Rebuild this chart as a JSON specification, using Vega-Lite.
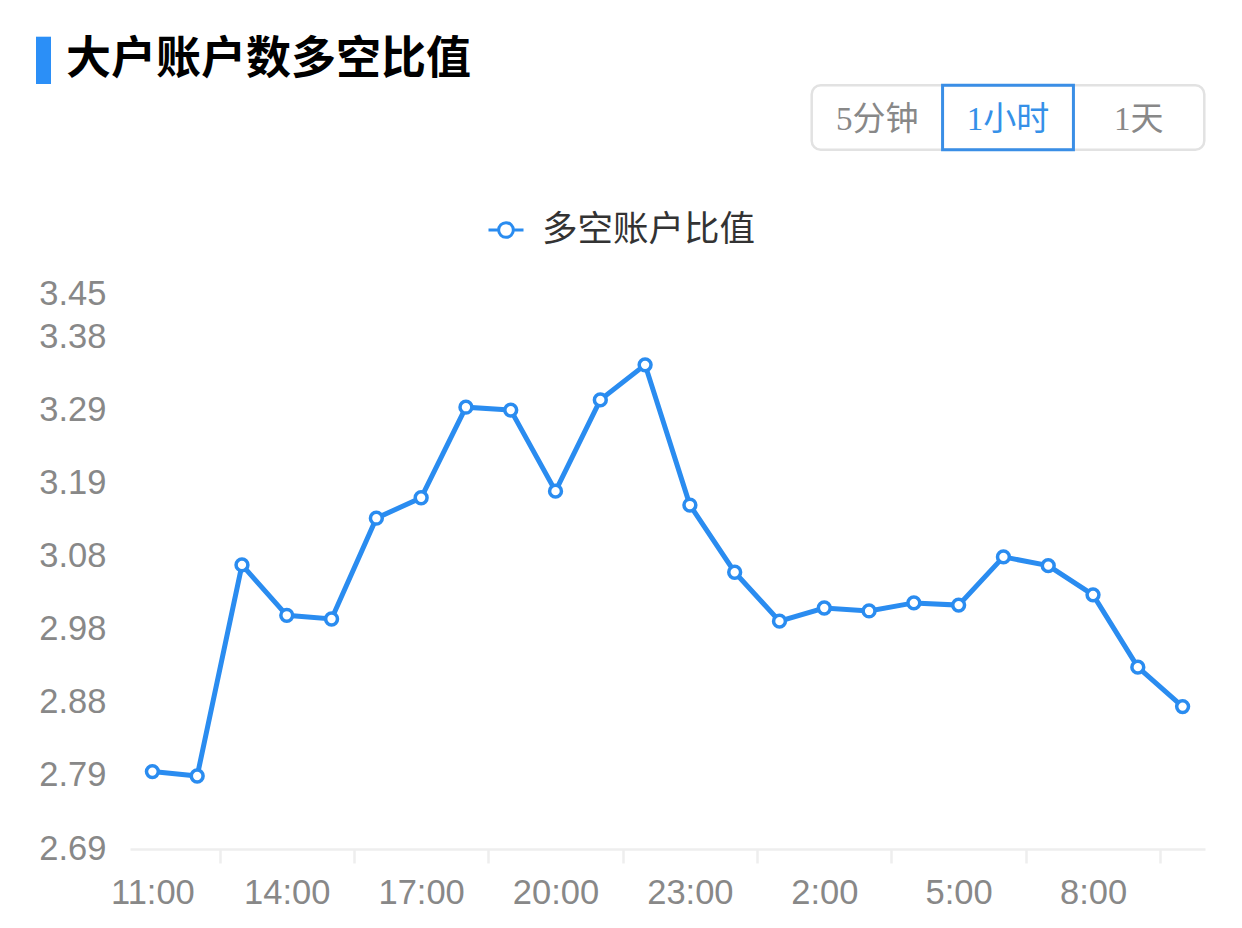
{
  "$schema": "https://vega.github.io/schema/vega-lite/v6.json",
  "autosize": "none",
  "width": 1075,
  "height": 555,
  "padding": {"left": 130, "top": 294, "right": 37, "bottom": 79},
  "background": "white",
  "config": {"view": {"stroke": null}, "font": "Noto Sans CJK SC"},
  "datasets": {
    "main": [
      {"time": "11:00", "value": 2.796, "series": "多空账户比值"},
      {"time": "12:00", "value": 2.790, "series": "多空账户比值"},
      {"time": "13:00", "value": 3.079, "series": "多空账户比值"},
      {"time": "14:00", "value": 3.010, "series": "多空账户比值"},
      {"time": "15:00", "value": 3.005, "series": "多空账户比值"},
      {"time": "16:00", "value": 3.143, "series": "多空账户比值"},
      {"time": "17:00", "value": 3.171, "series": "多空账户比值"},
      {"time": "18:00", "value": 3.295, "series": "多空账户比值"},
      {"time": "19:00", "value": 3.291, "series": "多空账户比值"},
      {"time": "20:00", "value": 3.180, "series": "多空账户比值"},
      {"time": "21:00", "value": 3.305, "series": "多空账户比值"},
      {"time": "22:00", "value": 3.353, "series": "多空账户比值"},
      {"time": "23:00", "value": 3.161, "series": "多空账户比值"},
      {"time": "0:00", "value": 3.069, "series": "多空账户比值"},
      {"time": "1:00", "value": 3.002, "series": "多空账户比值"},
      {"time": "2:00", "value": 3.020, "series": "多空账户比值"},
      {"time": "3:00", "value": 3.016, "series": "多空账户比值"},
      {"time": "4:00", "value": 3.027, "series": "多空账户比值"},
      {"time": "5:00", "value": 3.024, "series": "多空账户比值"},
      {"time": "6:00", "value": 3.090, "series": "多空账户比值"},
      {"time": "7:00", "value": 3.078, "series": "多空账户比值"},
      {"time": "8:00", "value": 3.038, "series": "多空账户比值"},
      {"time": "9:00", "value": 2.939, "series": "多空账户比值"},
      {"time": "10:00", "value": 2.885, "series": "多空账户比值"}
    ],
    "heading": [{"heading": "大户账户数多空比值"}],
    "buttons": [
      {"label": "5分钟", "group": "周期", "selected": false},
      {"label": "1小时", "group": "周期", "selected": true},
      {"label": "1天", "group": "周期", "selected": false}
    ]
  },
  "layer": [
    {
      "data": {"name": "heading"},
      "mark": {"type": "rect", "color": "#2b8ff7"},
      "encoding": {
        "x": {"field": "heading", "type": "nominal", "axis": null, "scale": {"type": "band", "range": [-94, -79], "paddingInner": 0, "paddingOuter": 0}},
        "y": {"field": "heading", "type": "nominal", "axis": null, "scale": {"type": "band", "range": [-257.3, -210], "paddingInner": 0, "paddingOuter": 0}}
      }
    },
    {
      "data": {"name": "heading"},
      "mark": {"type": "text", "align": "left", "baseline": "middle", "fontSize": 45, "fontWeight": "bold", "font": "Noto Sans CJK SC", "color": "#000000"},
      "encoding": {
        "x": {"field": "heading", "type": "nominal", "axis": null, "scale": {"type": "band", "range": [-74, -54], "paddingInner": 0, "paddingOuter": 0}},
        "y": {"field": "heading", "type": "nominal", "axis": null, "scale": {"type": "band", "range": [-257.3, -210], "paddingInner": 0, "paddingOuter": 0}},
        "text": {"field": "heading"}
      }
    },
    {
      "data": {"name": "buttons"},
      "transform": [{"filter": "datum.selected"}],
      "mark": {"type": "rect", "fill": "white", "stroke": "#e2e2e2", "strokeWidth": 2.5, "cornerRadius": 9},
      "encoding": {
        "x": {"field": "group", "type": "nominal", "axis": null, "scale": {"type": "band", "range": [681.7, 1074.3], "paddingInner": 0, "paddingOuter": 0}},
        "y": {"field": "group", "type": "nominal", "axis": null, "scale": {"type": "band", "range": [-208.7, -144.3], "paddingInner": 0, "paddingOuter": 0}}
      }
    },
    {
      "data": {"name": "buttons"},
      "encoding": {
        "x": {"field": "label", "type": "nominal", "axis": null, "scale": {"type": "band", "domain": ["5分钟", "1小时", "1天"], "range": [681.7, 1074.3], "paddingInner": 0, "paddingOuter": 0}},
        "y": {"field": "group", "type": "nominal", "axis": null, "scale": {"type": "band", "range": [-208.7, -144.3], "paddingInner": 0, "paddingOuter": 0}}
      },
      "layer": [
        {
          "transform": [{"filter": "datum.selected"}],
          "mark": {"type": "rect", "fill": "transparent", "stroke": "#3a8ee6", "strokeWidth": 3}
        },
        {
          "mark": {"type": "text", "align": "center", "baseline": "middle", "fontSize": 33, "font": "Liberation Serif, Noto Sans CJK SC", "dy": 2},
          "encoding": {
            "text": {"field": "label"},
            "color": {"condition": {"test": "datum.selected", "value": "#3590e8"}, "value": "#888888"}
          }
        }
      ]
    },
    {
      "data": {"name": "main"},
      "encoding": {
        "x": {
          "field": "time", "type": "ordinal", "sort": null,
          "scale": {"type": "band", "paddingInner": 0, "paddingOuter": 0},
          "axis": {
            "title": null,
            "values": ["11:00", "14:00", "17:00", "20:00", "23:00", "2:00", "5:00", "8:00"],
            "labelAngle": 0,
            "labelFont": "Liberation Sans",
            "labelFontSize": 34.5,
            "labelColor": "#888888",
            "labelPadding": 13,
            "domain": true,
            "domainColor": "#eeeeee",
            "domainWidth": 2.5,
            "ticks": true,
            "tickColor": "#eeeeee",
            "tickWidth": 2.5,
            "tickSize": 14,
            "tickOffset": 67.19,
            "labelOffset": -67.19,
            "grid": false
          }
        },
        "y": {
          "field": "value", "type": "quantitative",
          "scale": {"domain": [2.69, 3.45], "nice": false, "zero": false},
          "axis": {
            "title": null,
            "values": [2.69, 2.79, 2.89, 2.99, 3.09, 3.19, 3.29, 3.39, 3.45],
            "labelExpr": "datum.value < 2.7 ? '2.69' : datum.value < 2.8 ? '2.79' : datum.value < 2.9 ? '2.88' : datum.value < 3.0 ? '2.98' : datum.value < 3.1 ? '3.08' : datum.value < 3.2 ? '3.19' : datum.value < 3.3 ? '3.29' : datum.value < 3.42 ? '3.38' : '3.45'",
            "labelFont": "Liberation Sans",
            "labelFontSize": 34.5,
            "labelColor": "#888888",
            "labelPadding": 24,
            "domain": false,
            "ticks": false,
            "grid": false
          }
        }
      },
      "layer": [
        {
          "mark": {"type": "line", "strokeWidth": 5},
          "encoding": {
            "color": {
              "field": "series", "type": "nominal",
              "scale": {"range": ["#2a8cf0"]},
              "legend": {
                "orient": "none",
                "legendX": 357,
                "legendY": -83,
                "title": null,
                "direction": "horizontal",
                "padding": 0,
                "symbolType": "M-1,0L-0.42,0M0.42,0L1,0M-0.42,0C-0.42,-0.232,-0.232,-0.42,0,-0.42C0.232,-0.42,0.42,-0.232,0.42,0C0.42,0.232,0.232,0.42,0,0.42C-0.232,0.42,-0.42,0.232,-0.42,0Z",
                "symbolSize": 1225,
                "symbolStrokeWidth": 3,
                "symbolFillColor": "white",
                "symbolStrokeColor": "#2a8cf0",
                "labelFont": "Noto Sans CJK SC",
                "labelFontSize": 35.5,
                "labelColor": "#333333",
                "labelOffset": 17,
                "labelLimit": 500,
                "encode": {"symbols": {"update": {"fill": {"value": "white"}, "stroke": {"value": "#2a8cf0"}, "strokeWidth": {"value": 3}, "opacity": {"value": 1}}}}
              }
            }
          }
        },
        {
          "mark": {"type": "point", "shape": "circle", "filled": true, "fill": "white", "stroke": "#2a8cf0", "strokeWidth": 3.5, "size": 140, "opacity": 1}
        }
      ]
    }
  ],
  "resolve": {"scale": {"x": "independent", "y": "independent"}}
}
